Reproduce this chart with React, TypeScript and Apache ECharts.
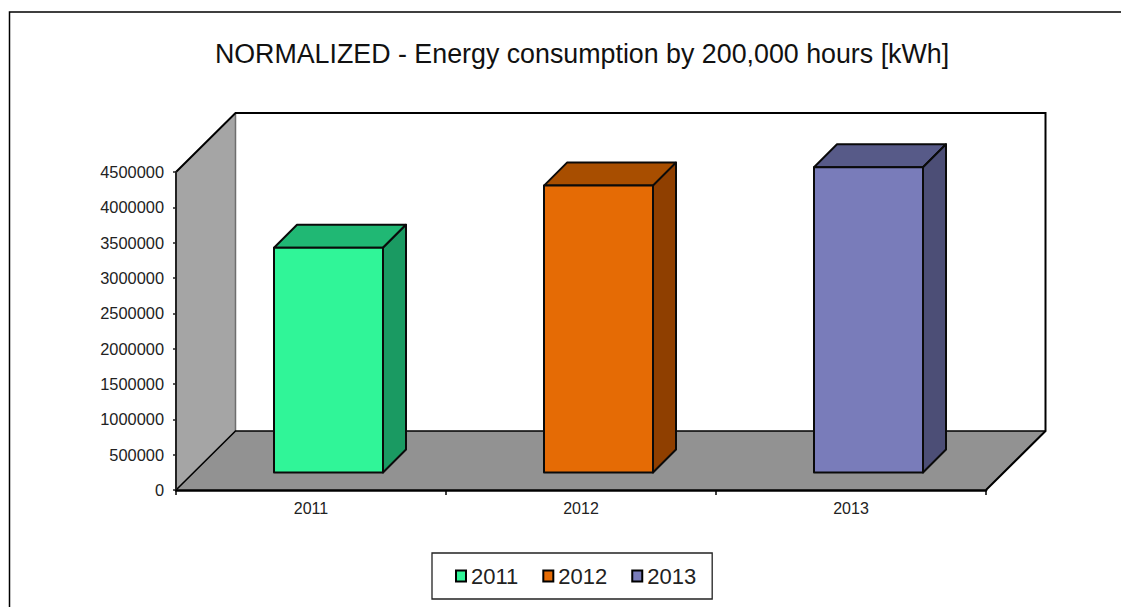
import React, { useEffect, useRef } from "react";
import * as echarts from "echarts";

const categories = ["2011", "2012", "2013"];
const values = [3180000, 4060000, 4320000];
const frontColors = ["#30F598", "#E56B05", "#797CBA"];
const topColors = ["#20B874", "#A84E00", "#575A88"];
const sideColors = ["#1A9A62", "#8F3F00", "#4C4E76"];
const yTicks = { min: 0, max: 4500000, interval: 500000 };
const titleText = "NORMALIZED - Energy consumption by 200,000 hours [kWh]";

const WALL_DX = 59.5;
const WALL_DY = 59;
const BAR_OFFSET = 17.5;
const BAR_DEPTH = 23;
const BAR_RATIO = 109 / 270;
const FONT = '"Liberation Sans", Arial, sans-serif';
const INK = "#000";

function wallItem(params: any, api: any) {
  const r = params.coordSys;
  const x0 = r.x, x1 = r.x + r.width, yb = r.y + r.height, yt = r.y;
  const dx = WALL_DX, dy = WALL_DY;
  return {
    type: "group",
    children: [
      { type: "polygon", shape: { points: [[x0 + dx, yt - dy], [x1 + dx, yt - dy], [x1 + dx, yb - dy], [x0 + dx, yb - dy]] }, style: { fill: "#fff", stroke: "none" } },
      { type: "polygon", shape: { points: [[x0, yt], [x0 + dx, yt - dy], [x0 + dx, yb - dy], [x0, yb]] }, style: { fill: "#A5A5A5", stroke: "none" } },
      { type: "polygon", shape: { points: [[x0, yb], [x0 + dx, yb - dy], [x1 + dx, yb - dy], [x1, yb]] }, style: { fill: "#929292", stroke: "none" } },
      { type: "polyline", shape: { points: [[x0 + dx, yb - dy], [x0 + dx, yt - dy]] }, style: { fill: "none", stroke: "#6e6e6e", lineWidth: 1.5 } },
      { type: "polyline", shape: { points: [[x0, yt], [x0 + dx, yt - dy], [x1 + dx, yt - dy], [x1 + dx, yb - dy], [x1, yb]] }, style: { fill: "none", stroke: INK, lineWidth: 2 } },
      { type: "polyline", shape: { points: [[x0, yb], [x0 + dx, yb - dy], [x1 + dx, yb - dy]] }, style: { fill: "none", stroke: INK, lineWidth: 1.6 } },
    ],
  };
}

function barItem(colorIndex: number) {
  return (_params: any, api: any) => {
    const idx = api.value(0);
    const top = api.coord([idx, api.value(1)]);
    const bottom = api.coord([idx, 0]);
    const w = api.size([1, 0])[0] * BAR_RATIO;
    const l = top[0] - w / 2 + BAR_OFFSET;
    const r = l + w;
    const t = top[1] - BAR_OFFSET;
    const b = bottom[1] - BAR_OFFSET;
    const d = BAR_DEPTH;
    const style = (fill: string) => ({ fill, stroke: "#0a0a0a", lineWidth: 2, lineJoin: "round" });
    return {
      type: "group",
      children: [
        { type: "polygon", shape: { points: [[l, t], [l + d, t - d], [r + d, t - d], [r, t]] }, style: style(topColors[colorIndex]) },
        { type: "polygon", shape: { points: [[r, t], [r + d, t - d], [r + d, b - d], [r, b]] }, style: style(sideColors[colorIndex]) },
        { type: "polygon", shape: { points: [[l, t], [r, t], [r, b], [l, b]] }, style: style(frontColors[colorIndex]) },
      ],
    };
  };
}

export default function App() {
  const ref = useRef<HTMLDivElement>(null);
  useEffect(() => {
    const chart = echarts.init(ref.current!, undefined, { renderer: "svg" });
    chart.setOption({
      animation: false,
      backgroundColor: "#fff",
      title: {
        text: titleText,
        left: 577,
        textAlign: "center",
        top: 35,
        textStyle: { fontFamily: FONT, fontSize: 26.8, fontWeight: "normal", color: "#111" },
      },
      grid: { left: 176, right: 135, top: 172, bottom: 117 },
      xAxis: {
        type: "category",
        data: categories,
        z: 10,
        axisLine: { lineStyle: { color: INK, width: 2.5 } },
        axisTick: { show: true, length: 5, alignWithLabel: false, lineStyle: { color: INK, width: 1.5 } },
        axisLabel: { fontFamily: FONT, fontSize: 16, color: "#222", margin: 10 },
        splitLine: { show: false },
      },
      yAxis: {
        type: "value",
        min: yTicks.min,
        max: yTicks.max,
        interval: yTicks.interval,
        z: 10,
        axisLine: { show: true, lineStyle: { color: "#222", width: 2 } },
        axisTick: { show: true, length: 3, lineStyle: { color: "#222", width: 1.5 } },
        axisLabel: { fontFamily: FONT, fontSize: 16.4, color: "#222", margin: 12, padding: [0, 0, 2, 0], formatter: (v: number) => String(v) },
        splitLine: { show: false },
      },
      legend: {
        left: 432,
        top: 553,
        orient: "horizontal",
        data: categories,
        icon: "rect",
        itemWidth: 10,
        itemHeight: 11,
        itemGap: 24,
        padding: [12, 16, 12, 23],
        borderColor: "#222",
        borderWidth: 1.3,
        backgroundColor: "#fff",
        itemStyle: { borderColor: "#000", borderWidth: 2 },
        textStyle: { fontFamily: FONT, fontSize: 22, color: "#222" },
        selectedMode: false,
      },
      graphic: [
        {
          type: "polyline",
          shape: { points: [[9.5, 607], [9.5, 12], [1121, 12]] },
          style: { fill: "none", stroke: "#000", lineWidth: 1.5 },
          silent: true,
        },
      ],
      series: [
        { type: "custom", name: "walls", coordinateSystem: "cartesian2d", renderItem: wallItem, data: [[0, 0]], z: 1, clip: false, silent: true },
        ...categories.map((c, i) => ({
          type: "custom",
          name: c,
          coordinateSystem: "cartesian2d",
          renderItem: barItem(i),
          data: [[i, values[i]]],
          encode: { x: 0, y: 1 },
          itemStyle: { color: frontColors[i] },
          z: 3,
          clip: false,
          silent: true,
        })),
      ],
    });
    return () => chart.dispose();
  }, []);
  return <div ref={ref} style={{ position: "fixed", left: 0, top: 0, width: 1121, height: 607 }} />;
}
